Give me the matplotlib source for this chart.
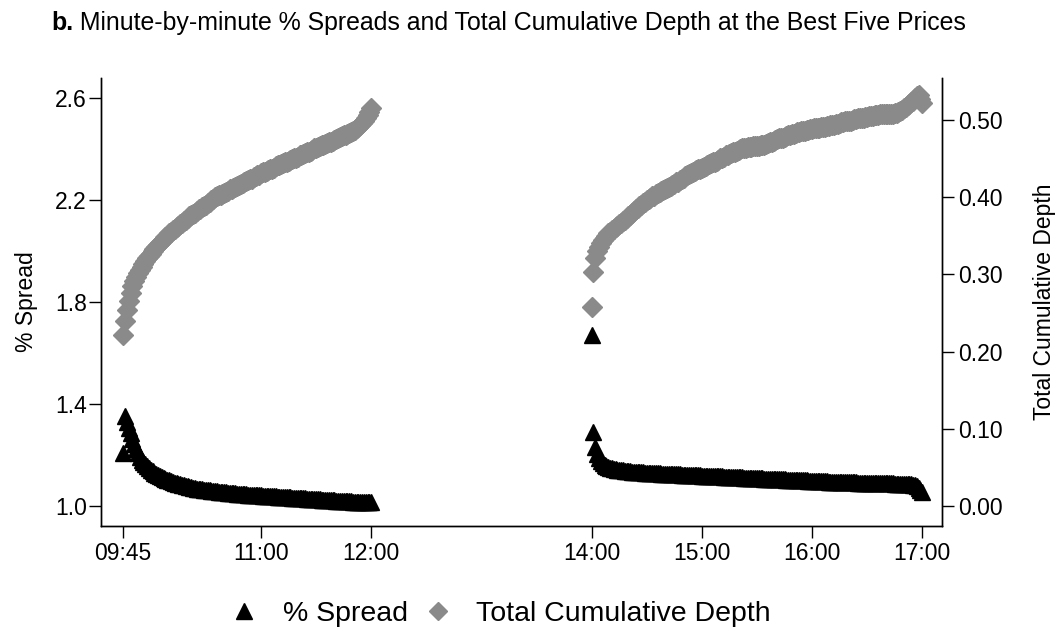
import numpy as np
import matplotlib
matplotlib.use("Agg")
import matplotlib.pyplot as plt

plt.rcParams["font.family"] = ["Liberation Sans", "DejaVu Sans"]

# minute-by-minute values, morning 09:45-12:00 and afternoon 14:00-17:00
am_start, pm_start = "09:45", "14:00"

am_spread = [
    1.206, 1.352, 1.330, 1.307, 1.285, 1.262, 1.242, 1.224, 1.208, 1.194,
    1.182, 1.172, 1.163, 1.155, 1.148, 1.142, 1.136, 1.131, 1.126, 1.122,
    1.118, 1.114, 1.110, 1.106, 1.103, 1.100, 1.097, 1.094, 1.092, 1.090,
    1.088, 1.086, 1.084, 1.082, 1.080, 1.078, 1.076, 1.074, 1.072, 1.070,
    1.068, 1.067, 1.066, 1.065, 1.064, 1.063, 1.062, 1.061, 1.060, 1.059,
    1.058, 1.057, 1.056, 1.055, 1.055, 1.054, 1.053, 1.052, 1.052, 1.051,
    1.050, 1.050, 1.049, 1.048, 1.048, 1.047, 1.046, 1.046, 1.045, 1.045,
    1.044, 1.044, 1.043, 1.043, 1.042, 1.042, 1.041, 1.041, 1.040, 1.040,
    1.039, 1.039, 1.038, 1.038, 1.037, 1.037, 1.036, 1.036, 1.035, 1.035,
    1.034, 1.034, 1.033, 1.033, 1.032, 1.032, 1.031, 1.031, 1.030, 1.030,
    1.029, 1.029, 1.028, 1.028, 1.027, 1.027, 1.026, 1.026, 1.025, 1.025,
    1.024, 1.024, 1.023, 1.023, 1.022, 1.022, 1.021, 1.021, 1.020, 1.020,
    1.019, 1.019, 1.018, 1.018, 1.018, 1.017, 1.017, 1.017, 1.016, 1.016,
    1.016, 1.015, 1.015, 1.015, 1.015, 1.016,
]

am_depth = [
    0.221, 0.240, 0.254, 0.265, 0.276, 0.285, 0.292, 0.297, 0.302, 0.306,
    0.310, 0.314, 0.317, 0.321, 0.324, 0.327, 0.330, 0.333, 0.336, 0.338,
    0.341, 0.343, 0.346, 0.348, 0.350, 0.353, 0.355, 0.357, 0.359, 0.361,
    0.363, 0.365, 0.367, 0.369, 0.371, 0.373, 0.375, 0.377, 0.378, 0.380,
    0.382, 0.384, 0.385, 0.387, 0.389, 0.390, 0.392, 0.394, 0.396, 0.398,
    0.400, 0.402, 0.403, 0.403, 0.404, 0.405, 0.407, 0.408, 0.410, 0.411,
    0.412, 0.413, 0.414, 0.416, 0.417, 0.418, 0.420, 0.421, 0.422, 0.423,
    0.424, 0.426, 0.427, 0.428, 0.429, 0.431, 0.432, 0.433, 0.434, 0.435,
    0.436, 0.437, 0.438, 0.440, 0.441, 0.442, 0.443, 0.444, 0.445, 0.446,
    0.447, 0.448, 0.449, 0.450, 0.451, 0.452, 0.454, 0.455, 0.456, 0.457,
    0.458, 0.459, 0.460, 0.461, 0.463, 0.464, 0.465, 0.466, 0.467, 0.468,
    0.469, 0.470, 0.471, 0.472, 0.473, 0.474, 0.475, 0.477, 0.478, 0.479,
    0.480, 0.481, 0.482, 0.483, 0.484, 0.486, 0.487, 0.489, 0.491, 0.493,
    0.496, 0.499, 0.502, 0.506, 0.510, 0.515,
]

pm_spread = [
    1.670, 1.291, 1.232, 1.205, 1.188, 1.176, 1.168, 1.162, 1.157, 1.153,
    1.150, 1.148, 1.146, 1.144, 1.143, 1.142, 1.141, 1.140, 1.139, 1.138,
    1.137, 1.136, 1.135, 1.135, 1.134, 1.133, 1.133, 1.132, 1.132, 1.131,
    1.131, 1.130, 1.130, 1.129, 1.129, 1.128, 1.128, 1.128, 1.127, 1.127,
    1.127, 1.126, 1.126, 1.126, 1.125, 1.125, 1.124, 1.124, 1.124, 1.123,
    1.123, 1.123, 1.122, 1.122, 1.121, 1.121, 1.121, 1.120, 1.120, 1.120,
    1.119, 1.119, 1.119, 1.118, 1.118, 1.118, 1.117, 1.117, 1.117, 1.116,
    1.116, 1.116, 1.115, 1.115, 1.115, 1.114, 1.114, 1.114, 1.113, 1.113,
    1.113, 1.112, 1.112, 1.111, 1.111, 1.111, 1.110, 1.110, 1.110, 1.109,
    1.109, 1.108, 1.108, 1.108, 1.107, 1.107, 1.107, 1.106, 1.106, 1.106,
    1.105, 1.105, 1.105, 1.104, 1.104, 1.104, 1.103, 1.103, 1.103, 1.102,
    1.102, 1.102, 1.101, 1.101, 1.101, 1.100, 1.100, 1.100, 1.099, 1.099,
    1.099, 1.099, 1.098, 1.098, 1.098, 1.097, 1.097, 1.097, 1.097, 1.096,
    1.096, 1.096, 1.096, 1.095, 1.095, 1.095, 1.095, 1.094, 1.094, 1.094,
    1.094, 1.093, 1.093, 1.093, 1.093, 1.092, 1.092, 1.092, 1.092, 1.092,
    1.091, 1.091, 1.091, 1.091, 1.091, 1.090, 1.090, 1.090, 1.090, 1.090,
    1.090, 1.089, 1.089, 1.089, 1.089, 1.088, 1.088, 1.088, 1.088, 1.087,
    1.087, 1.087, 1.086, 1.086, 1.085, 1.084, 1.082, 1.078, 1.072, 1.064,
    1.055,
]

pm_depth = [
    0.258, 0.303, 0.321, 0.330, 0.336, 0.340, 0.344, 0.347, 0.350, 0.353,
    0.355, 0.357, 0.359, 0.361, 0.363, 0.365, 0.367, 0.369, 0.371, 0.373,
    0.375, 0.377, 0.380, 0.382, 0.384, 0.386, 0.388, 0.390, 0.392, 0.394,
    0.396, 0.397, 0.399, 0.401, 0.402, 0.404, 0.405, 0.407, 0.408, 0.409,
    0.411, 0.412, 0.413, 0.414, 0.416, 0.417, 0.419, 0.420, 0.422, 0.424,
    0.425, 0.427, 0.428, 0.430, 0.431, 0.433, 0.434, 0.435, 0.436, 0.437,
    0.438, 0.439, 0.440, 0.442, 0.443, 0.444, 0.445, 0.446, 0.447, 0.448,
    0.450, 0.451, 0.452, 0.454, 0.455, 0.456, 0.457, 0.458, 0.459, 0.460,
    0.461, 0.462, 0.463, 0.464, 0.464, 0.465, 0.465, 0.465, 0.466, 0.466,
    0.466, 0.466, 0.467, 0.467, 0.468, 0.469, 0.470, 0.471, 0.472, 0.473,
    0.474, 0.475, 0.476, 0.476, 0.477, 0.478, 0.479, 0.480, 0.481, 0.482,
    0.482, 0.483, 0.484, 0.484, 0.485, 0.486, 0.486, 0.487, 0.487, 0.488,
    0.488, 0.489, 0.489, 0.490, 0.490, 0.491, 0.491, 0.491, 0.492, 0.492,
    0.493, 0.493, 0.494, 0.495, 0.495, 0.496, 0.497, 0.497, 0.498, 0.498,
    0.499, 0.499, 0.500, 0.501, 0.501, 0.502, 0.502, 0.503, 0.503, 0.504,
    0.504, 0.505, 0.505, 0.505, 0.506, 0.506, 0.506, 0.507, 0.507, 0.507,
    0.507, 0.508, 0.508, 0.508, 0.508, 0.509, 0.509, 0.510, 0.511, 0.513,
    0.515, 0.517, 0.519, 0.521, 0.523, 0.525, 0.528, 0.531, 0.532, 0.527,
    0.522,
]

xtick_labels = ["09:45", "11:00", "12:00", "14:00", "15:00", "16:00", "17:00"]
left_ticks = [1.0, 1.4, 1.8, 2.2, 2.6]
right_ticks = [0.0, 0.1, 0.2, 0.3, 0.4, 0.5]


def to_min(s):
    h, m = s.split(":")
    return int(h) * 60 + int(m)


am_x = to_min(am_start) + np.arange(len(am_spread))
pm_x = to_min(pm_start) + np.arange(len(pm_spread))
x = np.concatenate([am_x, pm_x])
spread = np.array(am_spread + pm_spread)
depth = np.array(am_depth + pm_depth)

gray = "#8a8a8a"
fs = 16.5

fig = plt.figure(figsize=(10.64, 6.31), dpi=100)
ax = fig.add_axes([0.0946, 0.1664, 0.7907, 0.7096])
ax2 = ax.twinx()

ax.plot(x, spread, ls="none", marker="^", ms=11.5, color="black", mec="black")
ax2.plot(x, depth, ls="none", marker="D", ms=10.5, color=gray, mec=gray)

ax.set_xlim(572.7, 1030.7)
ax.set_ylim(0.9217, 2.676)
ax2.set_ylim(-0.0258, 0.5539)

ax.set_xticks([to_min(t) for t in xtick_labels])
ax.set_xticklabels(xtick_labels)
ax.set_yticks(left_ticks)
ax.set_yticklabels([f"{v:.1f}" for v in left_ticks])
ax2.set_yticks(right_ticks)
ax2.set_yticklabels([f"{v:.2f}" for v in right_ticks])

for a in (ax, ax2):
    a.spines["top"].set_visible(False)
    for s in a.spines.values():
        s.set_linewidth(1.0)
    a.tick_params(labelsize=fs, length=8.5, width=1.0, pad=3)
ax.tick_params(axis="y", pad=1.5)

ax.set_ylabel("% Spread", fontsize=fs, labelpad=12)
ax2.set_ylabel("Total Cumulative Depth", fontsize=fs, labelpad=22)

title_fs = 17.9
t1 = fig.text(0.048, 0.964, "b.", fontsize=title_fs, fontweight="bold", va="center")
ax.annotate(" Minute-by-minute % Spreads and Total Cumulative Depth at the Best Five Prices",
            xy=(1, 0), xycoords=t1, va="bottom", ha="left", fontsize=title_fs,
            annotation_clip=False)

h1 = plt.Line2D([], [], ls="none", marker="^", ms=11, color="black")
h2 = plt.Line2D([], [], ls="none", marker="D", ms=9, color=gray)
fig.legend([h1, h2], ["% Spread", "Total Cumulative Depth"], loc="center",
           bbox_to_anchor=(0.467, 0.027), ncol=2, frameon=False, fontsize=20.5,
           handletextpad=0.6, columnspacing=0.3, handlelength=1.5)

fig.savefig("out.png", dpi=100)
